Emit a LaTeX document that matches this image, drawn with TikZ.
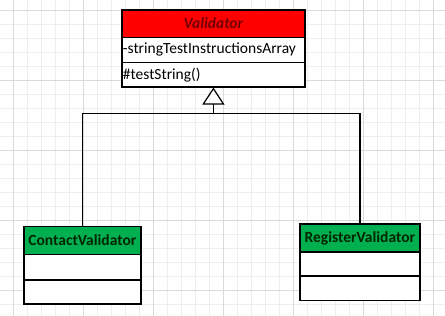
\documentclass[tikz,border=0pt]{standalone}
\usepackage{fontspec}
\setmainfont{Carlito}
\usetikzlibrary{arrows.meta}
\definecolor{hdrred}{RGB}{255,0,0}
\definecolor{hdrgreen}{RGB}{0,176,80}
\definecolor{minorgrid}{RGB}{238,238,238}
\definecolor{majorgrid}{RGB}{218,218,218}
\begin{document}
\begin{tikzpicture}[x=1pt,y=-1pt,
  cell/.style={draw=black,line width=1.2pt,anchor=north west,inner sep=1pt,font=\fontsize{15.5}{17}\selectfont},
  hdr/.style={cell,font=\fontsize{15.5}{17}\selectfont\bfseries,align=center},
  row/.style={cell,text width=#1,align=left},
  link/.style={draw=black,line width=1.2pt}]
\useasboundingbox (0,0) rectangle (445,316);
\fill[white] (0,0) rectangle (445,316);
% grid
\foreach \k in {-1,...,32} {\draw[minorgrid,line width=0.8pt] ({13.3+14*\k},0) -- ({13.3+14*\k},316);}
\foreach \k in {-1,...,23} {\draw[minorgrid,line width=0.8pt] (0,{10+14*\k}) -- (445,{10+14*\k});}
\foreach \k in {0,...,6} {\draw[majorgrid,line width=0.8pt] ({13.3+70*\k},0) -- ({13.3+70*\k},316);}
\foreach \k in {0,...,4} {\draw[majorgrid,line width=0.8pt] (0,{10+70*\k}) -- (445,{10+70*\k});}
% Validator
\node[hdr,fill=hdrred,text=red!45!black,minimum width=183pt,minimum height=27.4pt,text width=181pt] (vh) at (121.3,9.3) {\itshape Validator};
\node[row=181pt,fill=white,minimum width=183pt,minimum height=25.3pt] (va) at (121.3,36.7) {-stringTestInstructionsArray};
\node[row=181pt,fill=white,minimum width=183pt,minimum height=24.3pt] (vm) at (121.3,62) {\#testString()};
% ContactValidator
\node[hdr,fill=hdrgreen,text=black!85!green,minimum width=117pt,minimum height=28pt,text width=115pt] (ch) at (23.3,226) {ContactValidator};
\node[cell,fill=white,minimum width=117pt,minimum height=25.3pt] (ca) at (23.3,254) {};
\node[cell,fill=white,minimum width=117pt,minimum height=24pt] (co) at (23.3,279.3) {};
% RegisterValidator
\node[hdr,fill=hdrgreen,text=black!85!green,minimum width=120pt,minimum height=28pt,text width=118pt] (rh) at (299.3,223.3) {RegisterValidator};
\node[cell,fill=white,minimum width=120pt,minimum height=24pt] (ra) at (299.3,251.3) {};
\node[cell,fill=white,minimum width=120pt,minimum height=24.7pt] (ro) at (299.3,275.3) {};
% inheritance
\coordinate (j) at (vm.south |- 0,113.3);
\draw[link] (ch.north) |- (j);
\draw[link] (rh.north) |- (j);
\draw[link,-{Triangle[open,length=17pt,width=22pt,line width=1.2pt]}] (j) -- (vm.south);
\end{tikzpicture}
\end{document}
